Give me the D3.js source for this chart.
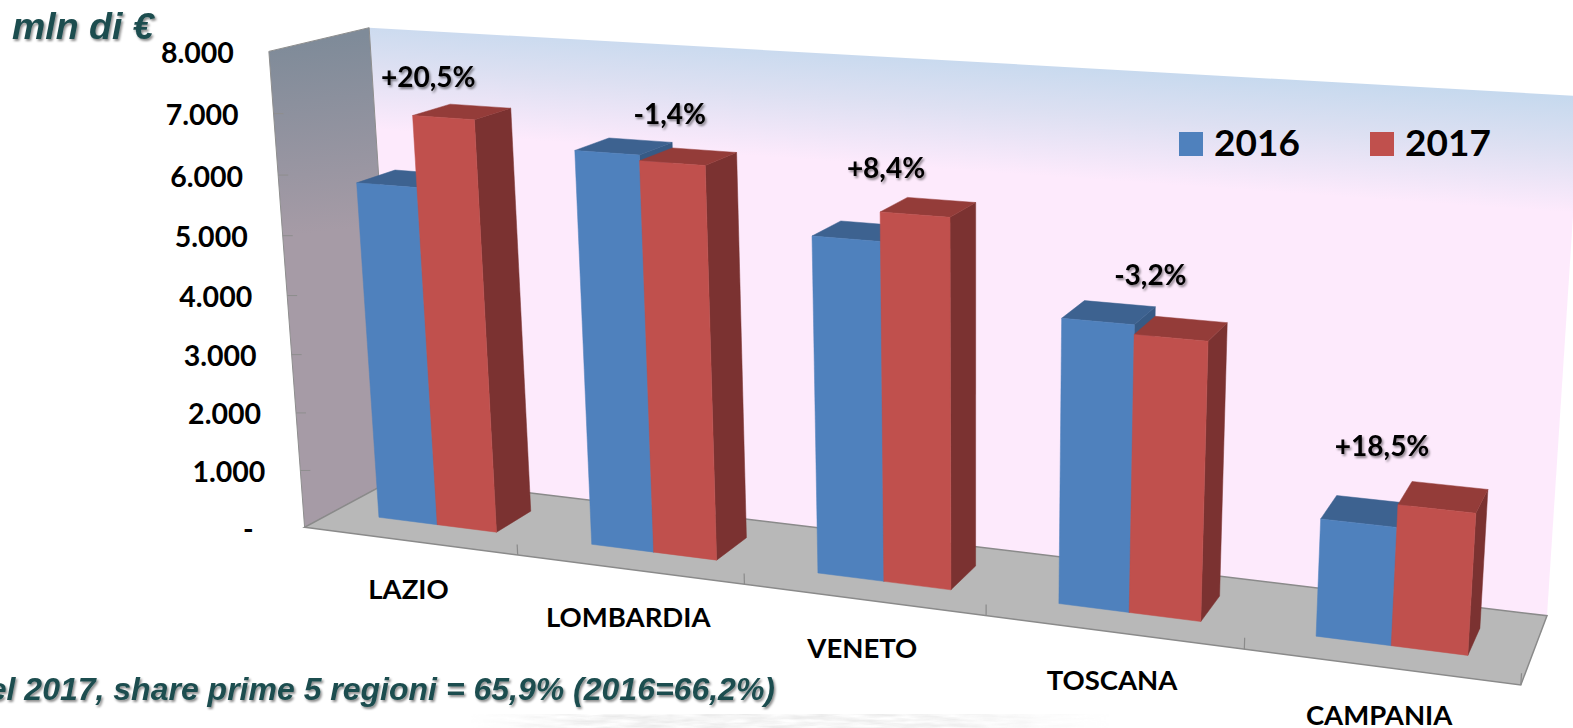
<!DOCTYPE html>
<html>
<head>
<meta charset="utf-8">
<script src="https://cdn.jsdelivr.net/npm/d3@7"></script>
<style>
    html, body { margin: 0; padding: 0; background: #fff; overflow: hidden; }
    text { font-family: Lato, sans-serif; font-weight: 700; fill: #000; }
    .teal { font-family: "Liberation Sans", Arial, sans-serif; font-style: italic; fill: #1f4e50; }
</style>
</head>
<body>
<div id="graph"></div>
<script>
let categories = ['LAZIO', 'LOMBARDIA', 'VENETO', 'TOSCANA', 'CAMPANIA'];
let years = ['2016', '2017'];
let values2016 = [5770, 6570, 5500, 4550, 1850];
let values2017 = [6950, 6480, 5960, 4400, 2200];
let changes = ['+20,5%', '-1,4%', '+8,4%', '-3,2%', '+18,5%'];
let yTicks = [0, 1000, 2000, 3000, 4000, 5000, 6000, 7000, 8000];
let yTickLabels = ['-', '1.000', '2.000', '3.000', '4.000', '5.000', '6.000', '7.000', '8.000'];

let width = 1573, height = 728;

// floor corners on screen: front left, front right, back right, back left
let floor = [[304.6, 527.3], [1520.8, 685], [1547, 615.7], [398, 477]];
let backLeftTop = [369.6, 27.7];
let vanish = [973, 9430];  // the verticals meet down here
let changeShift = [-49, -26, -41, -20, -40];  // the % boxes sit by hand in the original

let svg = d3.select('#graph').append('svg')
    .attr('width', width)
    .attr('height', height);

// square -> quad homography for the floor
let h = (function(){
    let [p0, p1, p2, p3] = floor;
    let dx1 = p1[0] - p2[0], dx2 = p3[0] - p2[0], sx = p0[0] - p1[0] + p2[0] - p3[0];
    let dy1 = p1[1] - p2[1], dy2 = p3[1] - p2[1], sy = p0[1] - p1[1] + p2[1] - p3[1];
    let det = dx1 * dy2 - dx2 * dy1;
    let g = (sx * dy2 - dx2 * sy) / det;
    let k = (dx1 * sy - sx * dy1) / det;
    return {
        a: p1[0] - p0[0] + g * p1[0], b: p3[0] - p0[0] + k * p3[0], c: p0[0],
        d: p1[1] - p0[1] + g * p1[1], e: p3[1] - p0[1] + k * p3[1], f: p0[1],
        g: g, k: k
    };
})();

let zScale = d3.scaleLinear().domain([0, 8000]).range([0, 1]);
// how much one full axis height weighs in the projection, from the back left top corner
let zWeight = (1 + h.k) * (floor[3][1] - backLeftTop[1]) / (backLeftTop[1] - vanish[1]);

// u along the categories, w into the depth (both 0..1), value in mln
let project = function(u, value, w){
    let z = zScale(value) * zWeight;
    let den = h.g * u + h.k * w + 1 + z;
    return [
        (h.a * u + h.b * w + h.c + z * vanish[0]) / den,
        (h.d * u + h.e * w + h.f + z * vanish[1]) / den
    ];
};

let x0 = d3.scaleBand().domain(categories).range([0, 1]).paddingInner(0.44).paddingOuter(0.22);
let x1 = d3.scaleBand().domain(years).range([0, x0.bandwidth()]);
let barDepth = [0.3, 0.7];

let poly = pts => pts.map(p => p.join(',')).join(' ');

let defs = svg.append('defs');
let wallGrad = defs.append('linearGradient').attr('id', 'wallGrad')
    .attr('gradientUnits', 'userSpaceOnUse')
    .attr('x1', 965).attr('y1', 55).attr('x2', 957).attr('y2', 170);
wallGrad.append('stop').attr('offset', 0).attr('stop-color', '#c6d9ee');
wallGrad.append('stop').attr('offset', 0.45).attr('stop-color', '#dde0f2');
wallGrad.append('stop').attr('offset', 1).attr('stop-color', '#fdeafc');
let sideGrad = defs.append('linearGradient').attr('id', 'sideGrad')
    .attr('gradientUnits', 'userSpaceOnUse')
    .attr('x1', 320).attr('y1', 40).attr('x2', 340).attr('y2', 230);
sideGrad.append('stop').attr('offset', 0).attr('stop-color', '#7f8b99');
sideGrad.append('stop').attr('offset', 1).attr('stop-color', '#a69ba6');
let shadow = defs.append('filter').attr('id', 'shadow')
    .attr('x', '-20%').attr('y', '-40%').attr('width', '140%').attr('height', '180%');
shadow.append('feDropShadow').attr('dx', 1.5).attr('dy', 2).attr('stdDeviation', 1.3)
    .attr('flood-color', '#000').attr('flood-opacity', 0.45);

// faint wavy backdrop along the bottom of the slide
let fade = defs.append('linearGradient').attr('id', 'fade');
fade.append('stop').attr('offset', 0).attr('stop-color', '#000').attr('stop-opacity', 0);
fade.append('stop').attr('offset', 0.2).attr('stop-color', '#000').attr('stop-opacity', 0.3);
fade.append('stop').attr('offset', 0.7).attr('stop-color', '#000').attr('stop-opacity', 0.3);
fade.append('stop').attr('offset', 1).attr('stop-color', '#000').attr('stop-opacity', 0);
let streaks = defs.append('filter').attr('id', 'streaks');
streaks.append('feTurbulence').attr('type', 'fractalNoise').attr('baseFrequency', '0.03 0.25')
    .attr('numOctaves', 3).attr('seed', 4).attr('result', 'noise');
streaks.append('feColorMatrix').attr('in', 'noise').attr('type', 'matrix')
    .attr('values', '0 0 0 0 0.45  0 0 0 0 0.45  0 0 0 0 0.45  0 0 0 1.6 -0.35').attr('result', 'grey');
streaks.append('feComposite').attr('in', 'grey').attr('in2', 'SourceGraphic').attr('operator', 'in');
svg.append('rect').attr('x', 470).attr('y', 714).attr('width', 640).attr('height', 14)
    .attr('fill', 'url(#fade)').attr('filter', 'url(#streaks)');

// walls and floor
svg.append('polygon').attr('points', poly([project(0, 8000, 1), project(1, 8000, 1), project(1, 0, 1), project(0, 0, 1)]))
    .attr('fill', 'url(#wallGrad)');
svg.append('polygon').attr('points', poly([project(0, 8000, 0), project(0, 8000, 1), project(0, 0, 1), project(0, 0, 0)]))
    .attr('fill', 'url(#sideGrad)').attr('stroke', '#8e8e8e').attr('stroke-width', 1);
svg.append('polygon').attr('points', poly([project(0, 0, 0), project(1, 0, 0), project(1, 0, 1), project(0, 0, 1)]))
    .attr('fill', '#b8b8b8').attr('stroke', '#8a8a8a').attr('stroke-width', 1.5);

// value axis
let tick = svg.append('g').selectAll('g').data(yTicks).enter().append('g');
tick.filter(d => d > 0 && d < 8000).append('line')
    .attr('x1', d => project(0, d, 0)[0]).attr('y1', d => project(0, d, 0)[1])
    .attr('x2', d => project(0, d, 0)[0] + 10).attr('y2', d => project(0, d, 0)[1])
    .attr('stroke', '#8e8e8e');
tick.append('text')
    .attr('x', d => project(0, d, 0)[0] - (d > 0 ? 35 : 51))
    .attr('y', d => project(0, d, 0)[1] + 11.5)
    .attr('text-anchor', 'end')
    .attr('font-size', 28.5)
    .text((d, i) => yTickLabels[i]);

// category axis
svg.append('g').selectAll('line').data(d3.range(1, 6)).enter().append('line')
    .attr('x1', i => project(i / 5, 0, 0)[0]).attr('y1', i => project(i / 5, 0, 0)[1])
    .attr('x2', i => project(i / 5, 180, 0)[0]).attr('y2', i => project(i / 5, 180, 0)[1])
    .attr('stroke', '#8a8a8a').attr('stroke-width', 1.2);

let catCenter = name => x0(name) + x0.bandwidth() / 2;
svg.append('g').selectAll('text').data(categories).enter().append('text')
    .attr('x', d => project(catCenter(d), 0, 0)[0] - 1)
    .attr('y', d => project(catCenter(d), 0, 0)[1] + 58)
    .attr('text-anchor', 'middle')
    .attr('font-size', 27.5)
    .text(d => d);

// bars
let bars = [];
categories.forEach((c, i) => {
    bars.push({ cat: c, year: '2016', value: values2016[i], front: '#4f81bd', top: '#3d6290', side: '#375a85' });
    bars.push({ cat: c, year: '2017', value: values2017[i], front: '#c0504d', top: '#943c39', side: '#7b3231' });
});
let bar = svg.append('g').selectAll('g').data(bars).enter().append('g');
let u0 = d => x0(d.cat) + x1(d.year);
let u1 = d => u0(d) + x1.bandwidth();
bar.append('polygon')
    .attr('points', d => poly([project(u1(d), 0, barDepth[0]), project(u1(d), 0, barDepth[1]), project(u1(d), d.value, barDepth[1]), project(u1(d), d.value, barDepth[0])]))
    .attr('fill', d => d.side).attr('stroke', d => d.side).attr('stroke-width', 0.5);
bar.append('polygon')
    .attr('points', d => poly([project(u0(d), d.value, barDepth[0]), project(u1(d), d.value, barDepth[0]), project(u1(d), d.value, barDepth[1]), project(u0(d), d.value, barDepth[1])]))
    .attr('fill', d => d.top).attr('stroke', d => d.top).attr('stroke-width', 0.5);
bar.append('polygon')
    .attr('points', d => poly([project(u0(d), 0, barDepth[0]), project(u1(d), 0, barDepth[0]), project(u1(d), d.value, barDepth[0]), project(u0(d), d.value, barDepth[0])]))
    .attr('fill', d => d.front).attr('stroke', d => d.front).attr('stroke-width', 0.5);

// change labels, sat above the taller bar of each pair
svg.append('g').selectAll('text').data(changes).enter().append('text')
    .attr('x', (d, i) => project(catCenter(categories[i]), Math.max(values2016[i], values2017[i]), 1)[0] + changeShift[i])
    .attr('y', (d, i) => project(catCenter(categories[i]), Math.max(values2016[i], values2017[i]), 1)[1] - 9)
    .attr('text-anchor', 'middle')
    .attr('font-size', 28)
    .attr('filter', 'url(#shadow)')
    .text(d => d);

// legend
let legend = svg.append('g').selectAll('g').data(years).enter().append('g')
    .attr('transform', (d, i) => `translate(${1179 + i * 191},132)`);
legend.append('rect').attr('width', 24).attr('height', 24)
    .attr('fill', (d, i) => i === 0 ? '#4f81bd' : '#c0504d');
legend.append('text').attr('x', 35).attr('y', 24).attr('font-size', 37).text(d => d);

svg.append('text').attr('class', 'teal').attr('x', 12).attr('y', 39)
    .attr('font-size', 37.5).attr('filter', 'url(#shadow)').text('mln di €');
svg.append('text').attr('class', 'teal').attr('x', 775).attr('y', 700).attr('text-anchor', 'end')
    .attr('font-size', 32).attr('filter', 'url(#shadow)').text('Nel 2017, share prime 5 regioni = 65,9% (2016=66,2%)');
</script>
</body>
</html>
